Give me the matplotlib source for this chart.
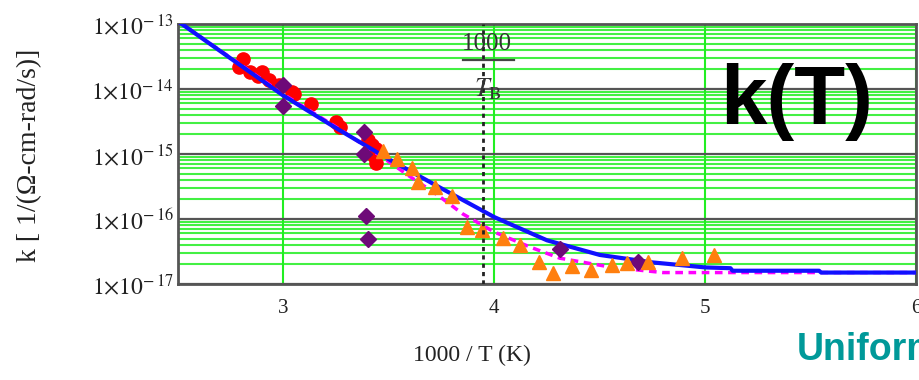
import matplotlib
matplotlib.use("Agg")
import matplotlib.pyplot as plt
from matplotlib.ticker import FixedLocator, NullFormatter
import numpy as np

# ---- data ----
blue_x = [2.5, 2.75, 3.0, 3.25, 3.5, 3.75, 4.0, 4.25, 4.5, 4.75, 5.0, 5.12, 5.13, 5.54, 5.55, 6.0]
blue_k = [1.1e-13, 2.95e-14, 7.9e-15, 2.5e-15, 8.3e-16, 2.95e-16, 1.07e-16, 4.7e-17,
          2.8e-17, 2.15e-17, 1.8e-17, 1.75e-17, 1.6e-17, 1.6e-17, 1.5e-17, 1.5e-17]

mag_x = [2.5, 3.0, 3.25, 3.47, 3.6, 3.73, 3.85, 4.0, 4.17, 4.31, 4.56, 4.8, 6.0]
mag_k = [1.1e-13, 8.3e-15, 2.6e-15, 8.9e-16, 4.5e-16, 2.35e-16, 1.2e-16, 6.3e-17,
         3.7e-17, 2.5e-17, 1.8e-17, 1.5e-17, 1.5e-17]

red_x = [2.81, 2.79, 2.84, 2.90, 2.88, 2.93, 2.98, 3.04, 3.05, 3.13, 3.25, 3.27, 3.40, 3.42, 3.44, 3.43, 3.44]
red_k = [2.9e-14, 2.2e-14, 1.8e-14, 1.8e-14, 1.6e-14, 1.4e-14, 1.15e-14, 9.1e-15, 8.3e-15,
         5.9e-15, 3.1e-15, 2.6e-15, 1.65e-15, 1.4e-15, 1.2e-15, 9.3e-16, 7.4e-16]

pur_x = [3.0, 3.0, 3.38, 3.38, 3.39, 3.40, 4.31, 4.68]
pur_k = [1.15e-14, 5.4e-15, 2.2e-15, 1.0e-15, 1.1e-16, 4.9e-17, 3.5e-17, 2.2e-17]

ora_x = [3.47, 3.54, 3.61, 3.64, 3.72, 3.80, 3.87, 3.94, 4.04, 4.12, 4.21, 4.28, 4.37,
         4.46, 4.56, 4.63, 4.73, 4.89, 5.04]
ora_k = [1.1e-15, 8.3e-16, 6.0e-16, 3.7e-16, 3.1e-16, 2.3e-16, 7.6e-17, 6.8e-17, 5.1e-17,
         4.0e-17, 2.2e-17, 1.5e-17, 1.9e-17, 1.65e-17, 1.95e-17, 2.1e-17, 2.2e-17, 2.5e-17, 2.8e-17]

TB_x = 3.945
x_ticks = [3, 4, 5, 6]
x_tick_labels = ["3", "4", "5", "6"]
y_ticks = [1e-17, 1e-16, 1e-15, 1e-14, 1e-13]
y_tick_labels = [r"$1{\times}10^{-\,17}$", r"$1{\times}10^{-\,16}$", r"$1{\times}10^{-\,15}$",
                 r"$1{\times}10^{-\,14}$", r"$1{\times}10^{-\,13}$"]

plt.rcParams["mathtext.fontset"] = "stix"
plt.rcParams["font.family"] = ["Liberation Serif", "DejaVu Serif"]

fig = plt.figure(figsize=(9.2, 3.8), dpi=100)
ax = fig.add_axes([0.1935, 0.2526, 0.8022, 0.6842])
ax.set_yscale("log")
ax.set_xlim(2.5, 6.0)
ax.set_ylim(1e-17, 1e-13)

# grids
green = "#22ee22"
ax.yaxis.set_minor_locator(FixedLocator([m * 10.0 ** e for e in range(-17, -13) for m in range(2, 10)]))
ax.yaxis.set_minor_formatter(NullFormatter())
ax.set_xticks(x_ticks)
ax.set_xticklabels(x_tick_labels)
ax.set_yticks(y_ticks)
ax.set_yticklabels(y_tick_labels)
ax.grid(True, which="minor", axis="y", color=green, lw=1.5, alpha=0.85)
ax.grid(True, which="major", axis="y", color="#555555", lw=1.6)
ax.grid(True, which="major", axis="x", color=green, lw=1.5)
ax.set_axisbelow(True)
ax.tick_params(which="both", length=0)
ax.tick_params(axis="x", labelsize=15, pad=11, labelcolor="#222222")
ax.tick_params(axis="y", labelsize=17, pad=3, labelcolor="#222222")
for s in ax.spines.values():
    s.set_color("#555555")
    s.set_linewidth(2)

# data
ax.plot(red_x, red_k, "o", color="#ff0000", ms=9.5, zorder=3)
ax.plot(blue_x, blue_k, "-", color="#1010ff", lw=3, zorder=4)
ax.plot(mag_x, mag_k, "--", color="#ff00ff", lw=2.5, dashes=(2.2, 1.6), zorder=3.5)
ax.plot(pur_x, pur_k, "D", color="#6e0a78", ms=8.5, zorder=5)
ax.plot(ora_x, ora_k, "^", color="#ff7f0e", ms=10, zorder=5)
ax.axvline(TB_x, color="#222222", lw=2, ls=(0, (1.5, 1.5)), zorder=6)

# 1000/T_B label
ax.text(0.419, 0.925, "1000", transform=ax.transAxes, ha="center", va="center",
        fontsize=18, color="#333333", zorder=7)
ax.plot([0.386, 0.455], [0.86, 0.86], transform=ax.transAxes, color="#444444", lw=1.6,
        clip_on=False, zorder=7)
ax.text(0.42, 0.75, r"$T_{\mathrm{B}}$", transform=ax.transAxes, ha="center", va="center",
        fontsize=19, color="#333333", zorder=7)

# big labels
ax.text(0.838, 0.70, "k(T)", transform=ax.transAxes, ha="center", va="center",
        fontsize=60, fontweight="bold", family="Liberation Sans", color="black")
fig.text(0.866, 0.08, "Uniform", ha="left", va="center", fontsize=27,
         fontweight="bold", family="Liberation Sans", color="#009999")

fig.text(0.513, 0.065, "1000 / T (K)", ha="center", va="center", fontsize=17, color="#222222")
fig.text(0.032, 0.59, "k [ 1/(Ω-cm-rad/s)]", rotation=90, ha="center", va="center",
         fontsize=20, color="#222222")

fig.savefig("out.png", dpi=100)
